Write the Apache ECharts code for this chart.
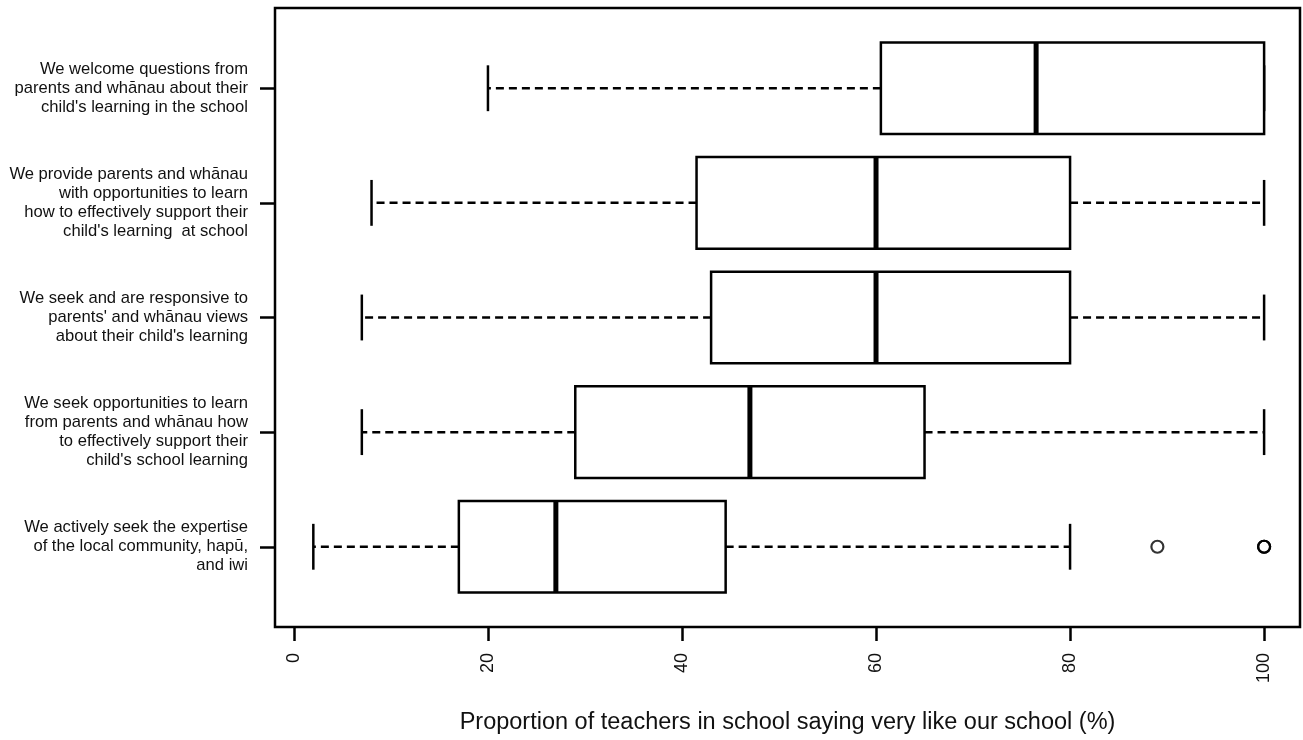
<!DOCTYPE html>
<html>
<head>
<meta charset="utf-8">
<script src="https://cdn.jsdelivr.net/npm/echarts@6/dist/echarts.min.js"></script>
<style>
html,body{margin:0;padding:0;background:#fff;}
#chart{width:1303px;height:740px;}
</style>
</head>
<body>
<div id="chart"></div>
<script>
// Categories listed bottom to top (y positions 1..5)
const categories = [
  "We actively seek the expertise\nof the local community, hapū,\nand iwi",
  "We seek opportunities to learn\nfrom parents and whānau how\nto effectively support their\nchild's school learning",
  "We seek and are responsive to\nparents' and whānau views\nabout their child's learning",
  "We provide parents and whānau\nwith opportunities to learn\nhow to effectively support their\nchild's learning  at school",
  "We welcome questions from\nparents and whānau about their\nchild's learning in the school"
];
const whiskerLow  = [2, 7, 7, 8, 20];
const q1Values    = [17, 29, 43, 41.5, 60.5];
const medianVals  = [27, 47, 60, 60, 76.5];
const q3Values    = [44.5, 65, 80, 80, 100];
const whiskerHigh = [80, 100, 100, 100, 100];
const outlierValues   = [89, 100, 100, 100];
const outlierCategory = [1, 1, 1, 1];
const xTicks = [0, 20, 40, 60, 80, 100];
const yTicks = [1, 2, 3, 4, 5];
const xTitle = "Proportion of teachers in school saying very like our school (%)";

const boxRows = categories.map((c, i) => [i + 1, whiskerLow[i], q1Values[i], medianVals[i], q3Values[i], whiskerHigh[i]]);
const outlierRows = outlierValues.map((v, i) => [v, outlierCategory[i]]);

const FONT = "'Liberation Sans', Arial, sans-serif";
const chart = echarts.init(document.getElementById('chart'), null, {renderer: 'canvas'});

function renderBox(params, api) {
  const y = api.value(0);
  const lo = api.value(1), q1 = api.value(2), med = api.value(3), q3 = api.value(4), hi = api.value(5);
  const pLo = api.coord([lo, y]);
  const pQ1 = api.coord([q1, y]);
  const pMed = api.coord([med, y]);
  const pQ3 = api.coord([q3, y]);
  const pHi = api.coord([hi, y]);
  const cy = pQ1[1];
  const h = api.size([0, 0.8])[1];
  const cap = h / 4;
  const stroke = {stroke: '#000', lineWidth: 2.5};
  const children = [];
  children.push({type: 'line', shape: {x1: pQ1[0], y1: cy, x2: pLo[0], y2: cy},
    style: {stroke: '#000', lineWidth: 2.5, lineDash: [8, 5]}});
  if (pHi[0] > pQ3[0]) {
    children.push({type: 'line', shape: {x1: pQ3[0], y1: cy, x2: pHi[0], y2: cy},
      style: {stroke: '#000', lineWidth: 2.5, lineDash: [8, 5]}});
  }
  children.push({type: 'line', shape: {x1: pLo[0], y1: cy - cap, x2: pLo[0], y2: cy + cap}, style: stroke});
  children.push({type: 'line', shape: {x1: pHi[0], y1: cy - cap, x2: pHi[0], y2: cy + cap}, style: stroke});
  children.push({type: 'rect', shape: {x: pQ1[0], y: cy - h / 2, width: pQ3[0] - pQ1[0], height: h},
    style: {fill: '#fff', stroke: '#000', lineWidth: 2.5}});
  children.push({type: 'line', shape: {x1: pMed[0], y1: cy - h / 2, x2: pMed[0], y2: cy + h / 2},
    style: {stroke: '#000', lineWidth: 5}});
  return {type: 'group', children: children};
}

const option = {
  animation: false,
  backgroundColor: '#fff',
  grid: {left: 275, right: 3, top: 8, bottom: 112, show: true, borderColor: '#000', borderWidth: 2.5, backgroundColor: '#fff'},
  xAxis: {
    type: 'value', min: -1.95, max: 103.7,
    splitLine: {show: false},
    axisLine: {show: false, onZero: false},
    axisTick: {show: true, length: 14, lineStyle: {color: '#000', width: 2.5}, customValues: xTicks},
    axisLabel: {rotate: 90, margin: 26, fontSize: 18, color: '#111', fontFamily: FONT, customValues: xTicks},
    name: xTitle, nameLocation: 'middle', nameGap: 84,
    nameTextStyle: {fontSize: 23.5, color: '#111', fontFamily: FONT}
  },
  yAxis: {
    type: 'value', min: 0.3, max: 5.7,
    splitLine: {show: false},
    axisLine: {show: false, onZero: false},
    axisTick: {show: true, length: 15, lineStyle: {color: '#000', width: 2.5}, customValues: yTicks},
    axisLabel: {
      margin: 27, fontSize: 16.6, lineHeight: 19, color: '#111', fontFamily: FONT, align: 'right',
      customValues: yTicks,
      formatter: v => categories[Math.round(v) - 1] || ''
    }
  },
  series: [
    {type: 'custom', renderItem: renderBox, data: boxRows, encode: {x: [1, 2, 3, 4, 5], y: 0}, silent: true},
    {type: 'scatter', data: outlierRows, symbol: 'circle', symbolSize: 12,
      itemStyle: {color: 'transparent', borderColor: '#000', borderWidth: 2.2}, silent: true}
  ]
};
chart.setOption(option);
</script>
</body>
</html>
